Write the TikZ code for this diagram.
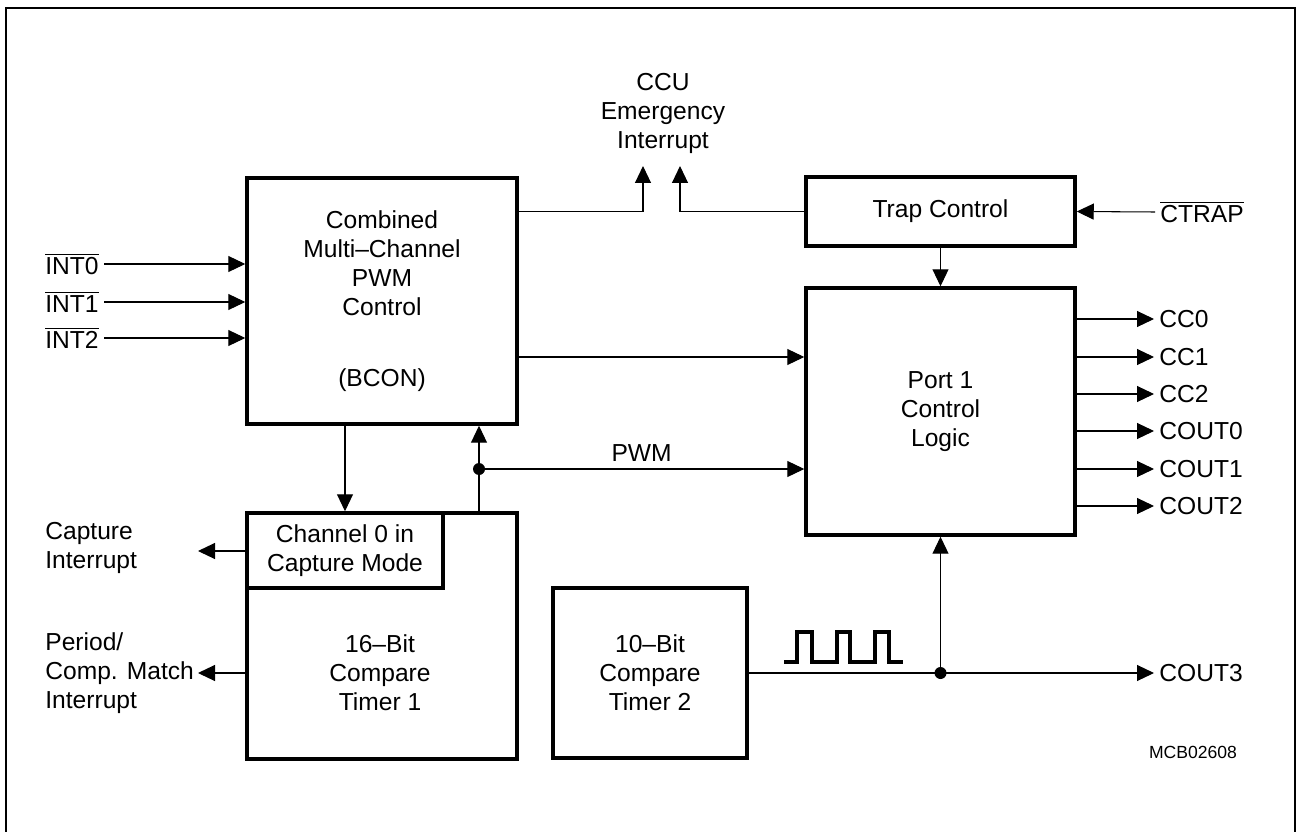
\documentclass[tikz,border=0pt]{standalone}
\usepackage{fontspec}
\setmainfont{Liberation Sans}
\usetikzlibrary{arrows.meta,positioning,calc}

\begin{document}
\begin{tikzpicture}[x=0.02cm,y=-0.02cm,
  box/.style={draw,line width=2pt,align=center,font=\fontsize{14}{16.5}\selectfont,inner sep=0pt},
  txt/.style={align=center,font=\fontsize{14}{16.5}\selectfont,inner sep=0pt},
  lbl/.style={font=\fontsize{14}{16.5}\selectfont,inner sep=0.1cm},
  sig/.style={-{Triangle[length=0.34cm,width=0.32cm]},line width=0.6pt},
  wire/.style={line width=0.6pt}]

  \useasboundingbox (0,0) rectangle (1297,831);
  \draw[line width=1.2pt] (6,840) -- (6,8) -- (1295,8) -- (1295,840);

  % blocks
  \node[box,minimum width=5.4cm,minimum height=4.92cm] (bcon) at (382,301)
        {Combined\\Multi--Channel\\PWM\\Control\\[0.84cm](BCON)};
  \node[box,minimum width=5.38cm,minimum height=1.38cm] (trap) at (940.5,211.5) {Trap Control};
  \node[box,minimum width=5.38cm,minimum height=4.94cm] (port) at (940.5,411.5) {Port 1\\Control\\Logic};
  \node[box,minimum width=5.4cm,minimum height=4.92cm] (tim1) at (382,636) {};
  \node[box,minimum width=3.92cm,minimum height=1.5cm] (chan) at (345,550.5) {Channel 0 in\\Capture Mode};
  \node[txt] (t1txt) at (380,673) {16--Bit\\Compare\\Timer 1};
  \node[box,minimum width=3.88cm,minimum height=3.4cm] (tim2) at (650,673) {10--Bit\\Compare\\Timer 2};

  % labels
  \node[txt] (emg) at (663,113) {CCU\\Emergency\\Interrupt};
  \coordinate (emg1) at (643,166);
  \coordinate (emg2) at (680,166);
  \node[lbl,anchor=east] (int0) at (104,264) {$\overline{\mbox{INT0}}$};
  \node[lbl,anchor=east] (int1) at (104,302) {$\overline{\mbox{INT1}}$};
  \node[lbl,anchor=east] (int2) at (104,338) {$\overline{\mbox{INT2}}$};
  \node[lbl,anchor=west] (ctrap) at (1155,212) {$\overline{\mbox{CTRAP}}$};
  \node[lbl,anchor=west] (cc0) at (1154,319) {CC0};
  \node[lbl,anchor=west] (cc1) at (1154,357) {CC1};
  \node[lbl,anchor=west] (cc2) at (1154,394) {CC2};
  \node[lbl,anchor=west] (cout0) at (1154,431) {COUT0};
  \node[lbl,anchor=west] (cout1) at (1154,469) {COUT1};
  \node[lbl,anchor=west] (cout2) at (1154,506) {COUT2};
  \node[lbl,anchor=west] (cout3) at (1154,673) {COUT3};
  \node[lbl,anchor=west,align=left] (capint) at (40,548) {Capture\\Interrupt};
  \node[lbl,anchor=west,align=left] (perint) at (40,673) {Period/\\Comp. Match\\Interrupt};
  \coordinate (capend) at (198,551);
  \coordinate (perend) at (198,673);
  \node[font=\fontsize{10}{12}\selectfont] (mcb) at (1193,752) {MCB02608};

  % connections
  \draw[sig] (int0.east) -- (bcon.west |- int0.east);
  \draw[sig] (int1.east) -- (bcon.west |- int1.east);
  \draw[sig] (int2.east) -- (bcon.west |- int2.east);
  \draw[sig] (bcon.east |- trap.west) -| (emg1);
  \draw[sig] (trap.west) -| (emg2);
  \draw[sig] (ctrap.west) -- (trap.east);
  \draw[sig] (trap.south) -- (port.north);
  \draw[sig] (bcon.east |- cc1.west) -- (port.west |- cc1.west);
  \draw[sig] (port.east |- cc0.west) -- (cc0.west);
  \draw[sig] (port.east |- cc1.west) -- (cc1.west);
  \draw[sig] (port.east |- cc2.west) -- (cc2.west);
  \draw[sig] (port.east |- cout0.west) -- (cout0.west);
  \draw[sig] (port.east |- cout1.west) -- (cout1.west);
  \draw[sig] (port.east |- cout2.west) -- (cout2.west);
  \draw[sig] (bcon.south -| chan.north) -- (chan.north);
  \draw[sig] (chan.west |- capend) -- (capend);
  \draw[sig] (tim1.west |- perend) -- (perend);

  \coordinate (pwmdot) at (479,469);
  \draw[wire] (tim1.north -| pwmdot) -- (pwmdot);
  \draw[sig] (pwmdot) -- (bcon.south -| pwmdot);
  \draw[sig] (pwmdot) -- (port.west |- pwmdot) node[txt,midway,above=0.14cm] {PWM};
  \fill (pwmdot) circle[radius=0.12cm];

  \coordinate (t2dot) at (port.south |- tim2.east);
  \draw[sig] (tim2.east) -- (cout3.west);
  \draw[sig] (t2dot) -- (port.south);
  \fill (t2dot) circle[radius=0.12cm];

  % pulse train
  \draw[line width=2pt] (784,662) -- (797,662) -- (797,632) -- (812,632) -- (812,662)
        -- (837,662) -- (837,632) -- (850,632) -- (850,662) -- (875,662) -- (875,632)
        -- (889,632) -- (889,662) -- (903,662);
\end{tikzpicture}
\end{document}
